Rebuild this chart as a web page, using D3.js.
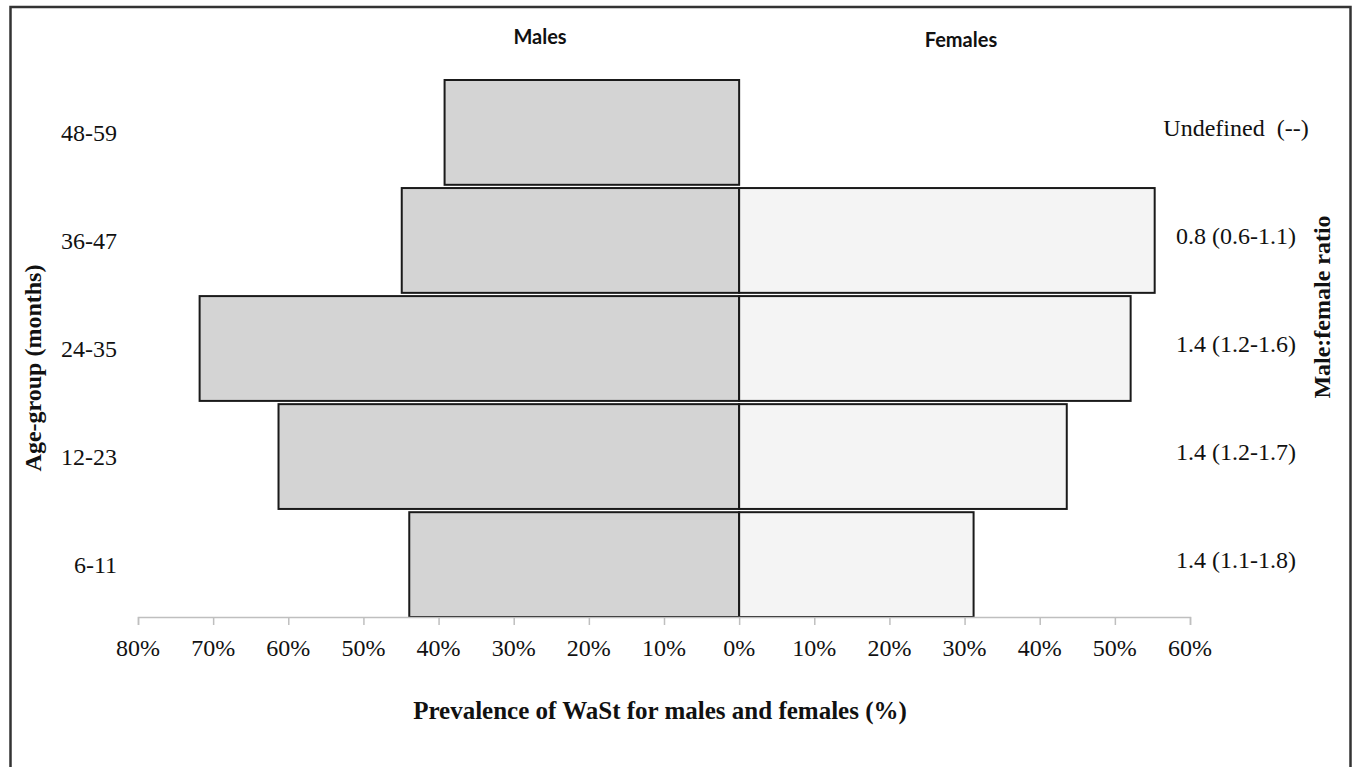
<!DOCTYPE html>
<html>
<head>
<meta charset="utf-8">
<script src="https://cdn.jsdelivr.net/npm/d3@7"></script>
<style>
  html, body { margin: 0; padding: 0; background: #ffffff; }
  svg { display: block; }
  .serif { font-family: "Liberation Serif", "Times New Roman", serif; }
</style>
</head>
<body>
<svg id="chart" width="1354" height="767"></svg>
<script>
// ---- data ----
const ageGroups = ["48-59", "36-47", "24-35", "12-23", "6-11"];
const malesPct = [39.2, 44.9, 71.8, 61.3, 43.9];
const femalesPct = [0, 55.3, 52.1, 43.6, 31.2];
const ratioLabels = ["Undefined  (--)", "0.8 (0.6-1.1)", "1.4 (1.2-1.6)", "1.4 (1.2-1.7)", "1.4 (1.1-1.8)"];
const tickValues = [-80, -70, -60, -50, -40, -30, -20, -10, 0, 10, 20, 30, 40, 50, 60];
const tickLabels = ["80%", "70%", "60%", "50%", "40%", "30%", "20%", "10%", "0%", "10%", "20%", "30%", "40%", "50%", "60%"];
const headerLabels = ["Males", "Females"];

// ---- layout ----
const svg = d3.select("#chart");
const sans = "Lato, 'Open Sans', sans-serif";

svg.append("rect")
  .attr("x", 10.5).attr("y", 7).attr("width", 1340).attr("height", 775)
  .attr("fill", "#ffffff").attr("stroke", "#333333").attr("stroke-width", 2.5);

const x = d3.scaleLinear().domain([-80, 60]).range([138, 1190]);
const y = d3.scaleBand().domain(ageGroups).range([80, 617]).paddingInner(0.03).paddingOuter(0);

const rows = ageGroups.map((g, i) => ({ g, m: malesPct[i], f: femalesPct[i], r: ratioLabels[i] }));

// male bars
svg.append("g").selectAll("rect").data(rows.filter(d => d.m > 0)).join("rect")
  .attr("x", d => x(-d.m)).attr("width", d => x(0) - x(-d.m))
  .attr("y", d => y(d.g)).attr("height", y.bandwidth())
  .attr("fill", "#d4d4d4").attr("stroke", "#1a1a1a").attr("stroke-width", 2);

// female bars
svg.append("g").selectAll("rect").data(rows.filter(d => d.f > 0)).join("rect")
  .attr("x", x(0)).attr("width", d => x(d.f) - x(0))
  .attr("y", d => y(d.g)).attr("height", y.bandwidth())
  .attr("fill", "#f4f4f4").attr("stroke", "#1a1a1a").attr("stroke-width", 2);

// x axis (line + ticks)
const xAxis = d3.axisBottom(x).tickValues(tickValues)
  .tickFormat("").tickSize(8).tickSizeOuter(8);
const gx = svg.append("g").attr("transform", "translate(0,617)").call(xAxis);
gx.select(".domain").attr("stroke", "#bfbfbf").attr("stroke-width", 1.5);
gx.selectAll(".tick line").attr("stroke", "#bfbfbf").attr("stroke-width", 1.5);

// x tick labels
svg.append("g").selectAll("text").data(tickValues).join("text")
  .attr("class", "serif")
  .attr("x", d => x(d)).attr("y", 656).attr("text-anchor", "middle")
  .attr("font-size", 24).attr("fill", "#111")
  .text((d, i) => tickLabels[i]);

// category labels
svg.append("g").selectAll("text").data(rows).join("text")
  .attr("class", "serif")
  .attr("x", 117).attr("y", d => y(d.g) + y.bandwidth() / 2)
  .attr("dy", "0.34em").attr("text-anchor", "end")
  .attr("font-size", 24).attr("fill", "#111")
  .text(d => d.g);

// ratio labels
svg.append("g").selectAll("text").data(rows).join("text")
  .attr("class", "serif")
  .attr("x", 1236).attr("y", d => y(d.g) + y.bandwidth() / 2 - 5)
  .attr("dy", "0.34em").attr("text-anchor", "middle")
  .style("white-space", "pre")
  .attr("font-size", 24).attr("fill", "#111")
  .text(d => d.r);

// headers
svg.append("text").attr("x", 540).attr("y", 44).attr("text-anchor", "middle")
  .style("font-family", sans).style("font-weight", "bold").style("font-size", "20px").attr("fill", "#111")
  .text(headerLabels[0]);
svg.append("text").attr("x", 961).attr("y", 47).attr("text-anchor", "middle")
  .style("font-family", sans).style("font-weight", "bold").style("font-size", "20px").attr("fill", "#111")
  .text(headerLabels[1]);

// axis titles
svg.append("text").attr("class", "serif").attr("x", 660).attr("y", 719).attr("text-anchor", "middle")
  .attr("font-weight", "bold").attr("font-size", 25).attr("fill", "#111")
  .text("Prevalence of WaSt for males and females (%)");

svg.append("text").attr("class", "serif").attr("transform", "translate(41,368) rotate(-90)").attr("text-anchor", "middle")
  .attr("font-weight", "bold").attr("font-size", 24).attr("fill", "#111")
  .text("Age-group (months)");

svg.append("text").attr("class", "serif").attr("transform", "translate(1330,307) rotate(-90)").attr("text-anchor", "middle")
  .attr("font-weight", "bold").attr("font-size", 24).attr("fill", "#111")
  .text("Male:female ratio");
</script>
</body>
</html>
